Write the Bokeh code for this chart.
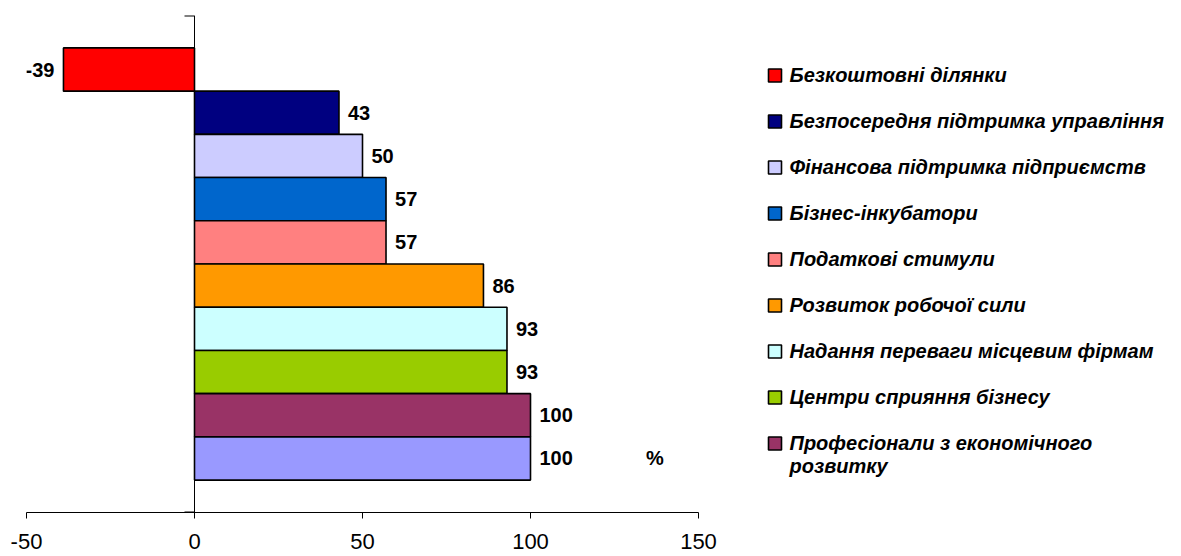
from bokeh.plotting import figure
from bokeh.models import Range1d, Span, Label, ColumnDataSource, FixedTicker
from bokeh.embed import file_html
from bokeh.resources import INLINE
from bokeh.core.properties import value

# ---- data (top to bottom, as in the chart) ----
categories = [
    "Безкоштовні ділянки",
    "Безпосередня підтримка управління",
    "Фінансова підтримка підприємств",
    "Бізнес-інкубатори",
    "Податкові стимули",
    "Розвиток робочої сили",
    "Надання переваги місцевим фірмам",
    "Центри сприяння бізнесу",
    "Професіонали з економічного\nрозвитку",
    "",  # legend entry not visible in the reference
]
values = [-39, 43, 50, 57, 57, 86, 93, 93, 100, 100]
colors = ["#FF0000", "#000080", "#CCCCFF", "#0066CC", "#FF8080",
          "#FF9900", "#CCFFFF", "#99CC00", "#993366", "#9999FF"]
x_ticks = [-50, 0, 50, 100, 150]
unit_label = "%"

FONT_NAME = "Liberation Sans"
FONT = value(FONT_NAME)
n = len(values)
ypos = [n - 1 - i for i in range(n)]

# ---- layout (pixels) ----
W, H = 1181, 556
BL, BR, BT, BB = 26, 0, 15, 44
PAGE = 0
XMIN, XMAX = x_ticks[0], x_ticks[-1]
CHART_PX = 672                       # width of the -50..150 span
px_x = CHART_PX / (XMAX - XMIN)
frame_w = W - BL - BR
x_end = XMIN + frame_w / px_x
Y0, Y1 = -1.25, n - 1 + 1.25
frame_h = H - BT - BB
px_y = frame_h / (Y1 - Y0)

def dx(page_x):
    return XMIN + (page_x - PAGE - BL) / px_x

def dy(page_y):
    return Y1 - (page_y - PAGE - BT) / px_y

p = figure(width=W, height=H, x_range=Range1d(XMIN, x_end), y_range=Range1d(Y0, Y1),
           output_backend="svg", toolbar_location=None, y_axis_location=None,
           min_border_left=BL, min_border_right=BR, min_border_top=BT,
           min_border_bottom=BB)
p.outline_line_color = None
p.xgrid.visible = False
p.ygrid.visible = False
p.background_fill_color = "white"
p.border_fill_color = "white"

src = ColumnDataSource(dict(
    y=ypos, v=values, c=colors,
    lab=[str(v) for v in values],
    xo=[9 if v >= 0 else -9 for v in values],
    al=["left" if v >= 0 else "right" for v in values],
))
p.hbar(y="y", left=0, right="v", height=1, fill_color="c",
       line_color="black", line_width=1.6, source=src)
p.text(x="v", y="y", text="lab", x_offset="xo", text_align="al",
       text_baseline="middle", text_font=FONT, text_font_style="bold",
       text_font_size="20px", text_color="black", source=src)

# category axis crossing at x = 0
p.add_layout(Span(location=0, dimension="height", line_color="black", line_width=1))
tick_units = 10 / px_x
p.segment(x0=[-tick_units] * 2, x1=[0, 0], y0=[Y0, Y1], y1=[Y0, Y1],
          line_color="black", line_width=2)

p.add_layout(Label(x=137, y=ypos[-1], text=unit_label, text_align="center",
                   text_baseline="middle", text_font=FONT_NAME, text_font_style="bold",
                   text_font_size="20px", text_color="black"))

ax = p.xaxis[0]
ax.ticker = FixedTicker(ticks=x_ticks)
ax.bounds = (XMIN, XMAX)
ax.major_label_overrides = {t: str(t) for t in x_ticks}
ax.major_tick_out = 6
ax.major_tick_in = 0
ax.minor_tick_line_color = None
ax.axis_line_color = "black"
ax.major_tick_line_color = "black"
ax.major_label_text_font = FONT_NAME
ax.major_label_text_font_size = "22px"
ax.major_label_text_color = "black"
ax.major_label_standoff = 15

# ---- legend (drawn in the right part of the same frame) ----
row_page_y = [75 + 46 * i for i in range(n)]
shown = [i for i in range(n) if categories[i]]
lsrc = ColumnDataSource(dict(
    x=[dx(774.5)] * len(shown),
    tx=[dx(789)] * len(shown),
    y=[dy(row_page_y[i]) for i in shown],
    c=[colors[i] for i in shown],
    t=[categories[i] for i in shown],
))
p.scatter(x="x", y="y", marker="square", size=13, fill_color="c",
          line_color="black", line_width=1.6, source=lsrc)
p.text(x="tx", y="y", text="t", y_offset=-12, text_align="left", text_baseline="top",
       text_font=FONT, text_font_style="bold italic", text_font_size="20px",
       text_color="black", text_line_height=1.05, source=lsrc)

open("out.html", "w").write(file_html(p, INLINE))
